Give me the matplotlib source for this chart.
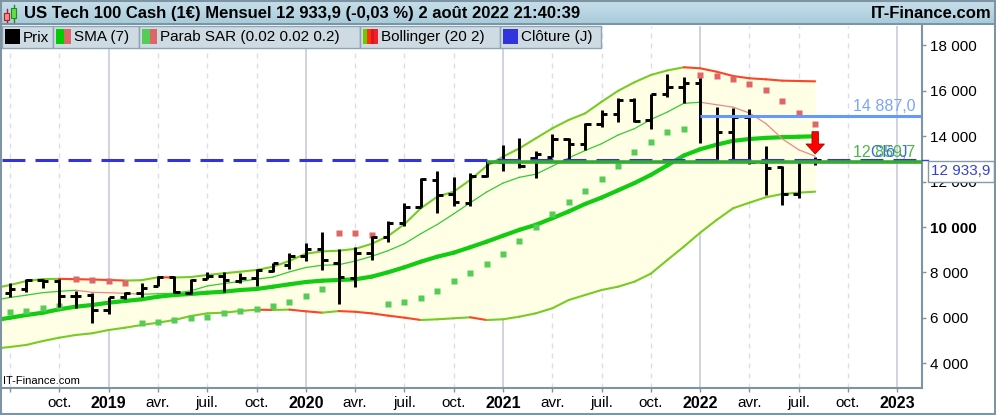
import matplotlib
matplotlib.use("Agg")
import matplotlib.pyplot as plt
import matplotlib.transforms as mtransforms
from matplotlib.collections import LineCollection
from matplotlib.patches import Rectangle
import numpy as np
import pandas as pd

plt.rcParams['font.family'] = ['Liberation Sans', 'DejaVu Sans']

# monthly bars Jun 2018 .. Aug 2022 (first one sits just off the left edge)
months = pd.period_range("2018-06", "2022-08", freq="M")

opens = [6970, 7080, 7260, 7650, 7640, 6980, 7000, 6350, 6920, 7090, 7400, 7800, 7100,
         7700, 7840, 7640, 7770, 8080, 8340, 8720, 9020, 8420, 7770, 8870, 9560, 10190,
         10900, 12080, 11450, 11050, 12270, 12880, 12920, 13050, 13100, 13880, 13650,
         14560, 14990, 15600, 14700, 15880, 16180, 16360, 14900, 14210, 14840, 12860,
         12630, 11460, 12947]
highs = [7200, 7520, 7700, 7710, 7700, 7185, 7085, 6940, 7155, 7520, 7860, 7850, 7710,
         8035, 8010, 7965, 8140, 8440, 8850, 9300, 9790, 9040, 9140, 9620, 10290, 11080,
         12150, 12470, 12220, 12380, 12900, 13620, 13940, 13360, 14090, 13940, 14590,
         15160, 15680, 15700, 15880, 16760, 16630, 16560, 15280, 15240, 15190, 13570,
         12690, 12990, 13100]
lows = [6870, 6940, 7130, 7330, 6500, 6420, 5770, 6150, 6830, 6910, 7400, 7110, 7040,
        7710, 7150, 7550, 7420, 8040, 8150, 8500, 8090, 6600, 7350, 8560, 9330, 10050,
        10900, 10640, 10950, 10950, 12220, 12470, 12620, 12150, 13100, 12920, 13400,
        14420, 14640, 14620, 14310, 15740, 15450, 13690, 12960, 12960, 12770, 11420,
        10980, 11300, 12740]
closes = [7040, 7290, 7670, 7630, 6980, 6950, 6340, 6920, 7100, 7300, 7790, 7130, 7680,
          7850, 7660, 7750, 8100, 8410, 8730, 9030, 8560, 7815, 8860, 9560, 10160, 10900,
          12110, 11400, 11090, 12270, 12870, 12920, 12700, 13200, 13880, 13640, 14560,
          14960, 15590, 14680, 15860, 16180, 16330, 14887, 14210, 14840, 12860, 12620,
          11460, 12947, 12934]

sma7 = [6770, 6901, 7003, 7112, 7169, 7218, 7127, 7110, 7083, 7041, 7064, 7086, 7190,
        7407, 7513, 7606, 7709, 7797, 8026, 8219, 8320, 8342, 8501, 8709, 8959, 9269,
        9709, 10115, 10583, 11070, 11543, 11937, 12194, 12329, 12683, 13047, 13374,
        13673, 14054, 14337, 14739, 15067, 15451, 15498, 15391, 15284, 15024, 14561,
        13887, 13403, 13124]

bb_upper = [7300, 7450, 7625, 7713, 7720, 7705, 7690, 7670, 7645, 7660, 7790, 7780, 7800,
            7890, 7965, 8035, 8110, 8255, 8510, 8830, 8930, 8960, 9040, 9260, 9600, 10130,
            10830, 11340, 11560, 12075, 12690, 13100, 13470, 13910, 14350, 14720, 15010,
            15520, 16000, 16380, 16700, 16900, 17040, 16995, 16845, 16656, 16554, 16510,
            16450, 16436, 16420]
bb_mid = [5890, 6009, 6128, 6229, 6379, 6494, 6568, 6670, 6744, 6819, 6934, 7009, 7053,
          7110, 7154, 7229, 7273, 7374, 7480, 7581, 7639, 7670, 7700, 7815, 8009, 8230,
          8476, 8696, 8872, 9110, 9357, 9620, 9880, 10100, 10390, 10690, 11020, 11300,
          11620, 11940, 12300, 12720, 13150, 13430, 13630, 13800, 13880, 13930, 13960,
          13980, 14000]
bb_lower = [4640, 4720, 4810, 4982, 5128, 5247, 5322, 5467, 5568, 5687, 5788, 5907, 6084,
            6202, 6229, 6304, 6360, 6350, 6365, 6290, 6230, 6300, 6270, 6200, 6100, 6010,
            5907, 5938, 5982, 6026, 5907, 5938, 6053, 6202, 6423, 6788, 7009, 7229, 7374,
            7595, 7950, 8550, 9136, 9753, 10313, 10828, 11075, 11313, 11458, 11516, 11560]

sar = [6200, 6273, 6304, 6450, 6537, 7700, 7670, 7640, 7550, 5788, 5833, 5907, 6009,
       6053, 6202, 6318, 6406, 6524, 6714, 6978, 7286, 9753, 9753, 9652, 6620, 6707,
       6890, 7198, 7639, 7991, 8374, 8815, 9387, 10017, 10564, 11119, 11603, 12119,
       12691, 13321, 13762, 14202, 14321, 16700, 16656, 16524, 16304, 16039, 15568,
       15039, 14541]
sar_above = [False, False, False, False, False, True, True, True, True, False, False,
             False, False, False, False, False, False, False, False, False, False, True,
             True, True, False, False, False, False, False, False, False, False, False,
             False, False, False, False, False, False, False, False, False, False, True,
             True, True, True, True, True, True, True]

close_j = 12933.9          # Clôture (J)
support = 12859.7          # drawn from Dec 2020
support_from = "2020-12"
resist = 14887.0           # drawn from Jan 2022
resist_from = "2022-01"

x = np.arange(len(months))
pos = {str(m): i for i, m in enumerate(months)}

fig = plt.figure(figsize=(9.96, 4.15), dpi=100)
ax = fig.add_axes([2 / 996, 27 / 415, 920 / 996, 362 / 415])
ax.set_xlim(0.51, 56.5)
ax.set_ylim(2912, 18858)


def trend_line(vals, up, down, lw, z):
    vals = np.asarray(vals, float)
    pts = np.column_stack([x, vals])
    segs = np.stack([pts[:-1], pts[1:]], axis=1)
    cols = [up if b >= a else down for a, b in zip(vals[:-1], vals[1:])]
    ax.add_collection(LineCollection(segs, colors=cols, linewidths=lw, zorder=z,
                                     capstyle='round'))


# bollinger envelope
ax.fill_between(x, bb_lower, bb_upper, color='#FFFFE6', lw=0, zorder=1)
trend_line(bb_upper, '#77CC22', '#FF4422', 1.5, 3)
trend_line(bb_lower, '#77CC22', '#FF4422', 1.5, 3)
trend_line(bb_mid, '#11CC11', '#FF4422', 3.0, 3)
trend_line(sma7, '#33CC33', '#EE8888', 0.9, 3)

# parabolic SAR
sar_a = np.array(sar, float)
above = np.array(sar_above)
ax.plot(x[~above], sar_a[~above], 's', ms=4.4, color='#55CC55', mec='none', zorder=4)
ax.plot(x[above], sar_a[above], 's', ms=4.4, color='#E06666', mec='none', zorder=4)

# OHLC bars
tick = 0.33
ax.vlines(x, lows, highs, color='black', lw=2.1, zorder=5, capstyle='butt')
ax.hlines(opens, x - tick, x, color='black', lw=2.1, zorder=5, capstyle='butt')
ax.hlines(closes, x, x + tick, color='black', lw=2.1, zorder=5, capstyle='butt')

# horizontal lines
ax.axhline(close_j, color='#3333DD', lw=2.2, dashes=(7.5, 3.3), zorder=6)
xr = ax.get_xlim()[1]
ax.hlines(support, pos[support_from], xr, color='#33AA33', lw=2.6, zorder=6.5)
ax.hlines(resist, pos[resist_from], xr, color='#6699FF', lw=2.2, zorder=6.5)

bt = mtransforms.blended_transform_factory(ax.transAxes, ax.transData)
ax.annotate("14 887,0", xy=(1, resist), xycoords=bt, xytext=(-7, 5),
            textcoords='offset pixels', ha='right', va='baseline',
            fontsize=11.5, color='#7AA5FF', zorder=7)
ax.annotate("12 859,7", xy=(1, support), xycoords=bt, xytext=(-7, 5),
            textcoords='offset pixels', ha='right', va='baseline',
            fontsize=11.5, color='#44BB44', zorder=7)
ax.annotate("Clô J", xy=(1, support), xycoords=bt, xytext=(-15, 5),
            textcoords='offset pixels', ha='right', va='baseline',
            fontsize=11.5, color='#4466DD', zorder=7)

# last close box on the axis
ax.plot([1, 1.006], [close_j, close_j], transform=bt, color='#3344CC', lw=1,
        clip_on=False, zorder=8)
ax.annotate("12 933,9", xy=(1, close_j), xycoords=bt, xytext=(9, -4),
            textcoords='offset pixels', ha='left', va='top', fontsize=11,
            color='#3344CC', zorder=9, annotation_clip=False,
            bbox=dict(boxstyle='square,pad=0.22', fc='white', ec='#8899AA', lw=1))

# signal arrow on the last bar
ax.annotate('', xy=(x[-1], highs[-1]), xytext=(0, 25), textcoords='offset pixels',
            arrowprops=dict(arrowstyle='simple,head_length=0.65,head_width=1.2,tail_width=0.42',
                            mutation_scale=11, fc='#FF0000', ec='#AA0000', lw=0.6,
                            shrinkA=0, shrinkB=2), zorder=8)

# x axis: quarters
qmonths = pd.period_range("2018-07", "2023-01", freq="M")
qpos, qlab, qyear = [], [], []
for i, m in enumerate(qmonths):
    if m.month in (1, 4, 7, 10):
        qpos.append(i + 1)
        qlab.append({1: str(m.year), 4: 'avr.', 7: 'juil.', 10: 'oct.'}[m.month])
        qyear.append(m.month == 1)
qlab[0] = ''
for p, yr in zip(qpos, qyear):
    if yr:
        ax.axvline(p, color='#C4C8D4', lw=1.1, zorder=0.5)
    else:
        ax.axvline(p, color='#DCDFE6', lw=1.0, ls=(0, (3.6, 3.6)), zorder=0.5)
ax.set_xticks(qpos)
ax.set_xticklabels(qlab)
for lab, yr in zip(ax.get_xticklabels(), qyear):
    lab.set_fontsize(11.5 if yr else 11)
    if yr:
        lab.set_fontweight('bold')

# y axis on the right
yt = list(range(4000, 18001, 2000))
ax.yaxis.tick_right()
ax.set_yticks(yt)
ax.set_yticklabels([f"{v:,}".replace(",", " ") for v in yt])
for lab, v in zip(ax.get_yticklabels(), yt):
    lab.set_fontsize(11)
    if v == 10000:
        lab.set_fontweight('bold')

ax.tick_params(axis='both', colors='#7E94A2', length=3, width=1, pad=3,
               labelcolor='black')
for s in ('top', 'left'):
    ax.spines[s].set_visible(False)
for s in ('bottom', 'right'):
    ax.spines[s].set_color('#7E94A2')
    ax.spines[s].set_linewidth(1.5)

# header, legend and frame in pixel space
ov = fig.add_axes([0, 0, 1, 1], zorder=10)
ov.set_xlim(0, 996)
ov.set_ylim(415, 0)
ov.axis('off')

grad = np.linspace(0, 1, 30)[:, None]
ov.imshow(grad, extent=(0, 996, 25, 0), aspect='auto', zorder=1,
          cmap=matplotlib.colors.LinearSegmentedColormap.from_list('hdr', ['#C8E1EB', '#A6C9D9']))
ov.plot([0, 996], [24.5, 24.5], color='#6F8C9C', lw=1.2, zorder=2)

# little candle icon
ov.plot([6.5, 6.5], [9, 22], color='#AA2222', lw=1, zorder=3)
ov.add_patch(Rectangle((4, 13), 5, 7, fc='#FF8888', ec='#AA2222', lw=0.8, zorder=4))
ov.plot([13.5, 13.5], [5, 22], color='#228822', lw=1, zorder=3)
ov.add_patch(Rectangle((11, 8), 5, 10, fc='#66DD44', ec='#228822', lw=0.8, zorder=4))

ov.text(24, 13.5, "US Tech 100 Cash (1€) Mensuel 12 933,9 (-0,03 %) 2 août 2022 21:40:39",
        fontsize=12, fontweight='bold', va='center', ha='left', zorder=5)
ov.text(992, 13.5, "IT-Finance.com", fontsize=12, fontweight='bold', va='center',
        ha='right', zorder=5)

legend_items = [
    ("Prix", 2, 53, ['#000000']),
    ("SMA (7)", 53, 139, ['#00CC00', '#DD6666']),
    ("Parab SAR (0.02 0.02 0.2)", 139, 360, ['#55CC55', '#DD6666']),
    ("Bollinger (20 2)", 360, 500, ['#66CC00', '#FF3300', '#DD1133', '#EE2222']),
    ("Clôture (J)", 500, 601, ['#3333DD']),
]
for label, x0, x1, cols in legend_items:
    ov.add_patch(Rectangle((x0, 26), x1 - x0, 22, fc='#CEDBE3', ec='#8EA4B2', lw=1,
                           zorder=3))
    w = 15 / len(cols)
    for k, c in enumerate(cols):
        ov.add_patch(Rectangle((x0 + 3 + k * w, 29.5), w, 15, fc=c, ec='none', zorder=4))
    ov.text(x0 + 21, 37.5, label, fontsize=11, va='center', ha='left', zorder=5)

ov.text(3, 386, "IT-Finance.com", fontsize=8, va='bottom', ha='left', zorder=5)
ov.add_patch(Rectangle((0.75, 0.75), 994.5, 413.5, fc='none', ec='#7E94A2', lw=1.5,
                       zorder=6))

fig.savefig("out.png", dpi=100)
